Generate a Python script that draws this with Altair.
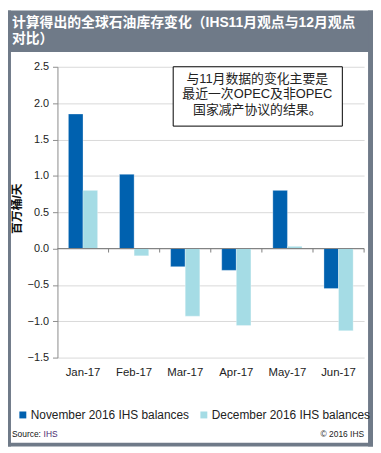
import altair as alt
import pandas as pd

months = ["Jan-17", "Feb-17", "Mar-17", "Apr-17", "May-17", "Jun-17"]
series = ["November 2016 IHS balances", "December 2016 IHS balances"]
nov_values = [1.85, 1.02, -0.25, -0.30, 0.80, -0.55]
dec_values = [0.80, -0.10, -0.93, -1.06, 0.03, -1.13]
colors = ["#0061AF", "#A5DCE5"]
y_ticks = [-1.5, -1.0, -0.5, 0.0, 0.5, 1.0, 1.5, 2.0, 2.5]

title_text = "计算得出的全球石油库存变化（IHS11月观点与12月观点\n对比）"
note_text = "与11月数据的变化主要是\n最近一次OPEC及非OPEC\n国家减产协议的结果。"
y_title = "百万桶/天"
source_label = "Source:"
source_name = "IHS"
copyright_text = "© 2016 IHS"

FONT = "Liberation Sans, Arial, Noto Sans CJK SC"
FRAME = "#6f7a88"

rows = []
for m, n, d in zip(months, nov_values, dec_values):
    rows.append({"month": m, "series": series[0], "value": n})
    rows.append({"month": m, "series": series[1], "value": d})
df = pd.DataFrame(rows)
month_df = pd.DataFrame({"month": months})
one = pd.DataFrame({"t": [""]})

W, H = 310, 294

yaxis = alt.Axis(values=y_ticks, format=".1f", grid=True, gridColor="#d9d9d9",
                 domainColor="#8c8c8c", tickColor="#8c8c8c", tickSize=5,
                 labelOverlap=False, labelFlush=False,
                 labelFontSize=11, labelColor="#222222", labelPadding=4,
                 labelFont=FONT, titleFont=FONT, titleFontSize=12,
                 titleFontWeight="bold", titleColor="#111111",
                 titleAngle=270, titleAlign="center", titleBaseline="middle",
                 titleX=-41, titleY=143)
yscale = alt.Scale(domain=[-1.5, 2.5], nice=False, zero=False)
xaxis = alt.Axis(domain=False, ticks=False, labelAngle=0, labelFontSize=11.5,
                 labelColor="#222222", labelPadding=9, labelFont=FONT, grid=False)
xscale = alt.Scale(paddingInner=0, paddingOuter=0)

bars = alt.Chart(df).mark_bar(stroke="#ffffff", strokeWidth=0.5, strokeOpacity=0.6).encode(
    x=alt.X("month:N", sort=months, title=None, scale=xscale, axis=xaxis),
    xOffset=alt.XOffset("series:N", sort=series,
                        scale=alt.Scale(paddingInner=0, paddingOuter=0.75)),
    y=alt.Y("value:Q", title=y_title, scale=yscale, axis=yaxis),
    color=alt.Color("series:N", sort=series,
                    scale=alt.Scale(domain=series, range=colors),
                    legend=alt.Legend(orient="none", legendX=-41, legendY=346,
                                      direction="horizontal", title=None,
                                      symbolType="square", symbolSize=49,
                                      symbolStrokeWidth=0, labelFontSize=12,
                                      labelColor="#222222", labelFont=FONT,
                                      labelLimit=400,
                                      labelOffset=2, columnPadding=8, padding=0)),
)

zero_rule = alt.Chart(one).mark_rule(color="#7f7f7f", strokeWidth=1).encode(
    y=alt.YDatum(0, title=y_title, scale=yscale, axis=yaxis),
    x=alt.value(0), x2=alt.value(W)
)

ticks = alt.Chart(month_df).mark_rule(color="#7f7f7f", strokeWidth=1).encode(
    x=alt.X("month:N", sort=months, bandPosition=1, title=None, scale=xscale, axis=xaxis),
    y=alt.YDatum(0, title=y_title, scale=yscale, axis=yaxis), y2=alt.Y2Datum(-0.055)
)

def rect(x, x2, y, y2, **kw):
    return alt.Chart(one).mark_rect(**kw).encode(
        x=alt.value(x), x2=alt.value(x2), y=alt.value(y), y2=alt.value(y2))

title_band = rect(-50, 319, -57, -15, color=FRAME)
left_border = rect(-50, -47, -57, 384, color=FRAME)
right_border = rect(314, 319, -57, 384, color=FRAME)
bottom_border = rect(-50, 319, 380, 384, color=FRAME)

note_box = rect(117, 288, 0, 60, fill="#ffffff", stroke="#000000", strokeWidth=1)

def text(t, x, y, **kw):
    return alt.Chart(pd.DataFrame({"t": [t]})).mark_text(font=FONT, **kw).encode(
        text="t:N", x=alt.value(x), y=alt.value(y))

title = text(title_text, -46, -51, align="left", baseline="top", fontSize=14,
             fontWeight="bold", color="#ffffff", lineBreak="\n", lineHeight=16)
note = text(note_text, 202, 6, align="center", baseline="top", fontSize=13,
            color="#222222", lineBreak="\n", lineHeight=16)
src1 = text(source_label, -46, 371, align="left", baseline="middle", fontSize=8.5,
            color="#111111")
src2 = text(source_name, -14, 371, align="left", baseline="middle", fontSize=8.5,
            color="#4a2a70")
copy = text(copyright_text, 310, 371, align="right", baseline="middle", fontSize=8.5,
            color="#222222")

chart = alt.layer(
    bars, zero_rule, ticks, title_band, left_border, right_border, bottom_border,
    note_box, title, note, src1, src2, copy
).properties(
    width=W, height=H,
    padding={"left": 50, "top": 57, "right": 9, "bottom": 90},
    autosize=alt.AutoSizeParams(type="none"),
    background="#ffffff",
).configure_view(stroke=None).configure_axis(labelOverlap=False)

chart.save("out.html", embed_options={"renderer": "svg", "actions": False})
